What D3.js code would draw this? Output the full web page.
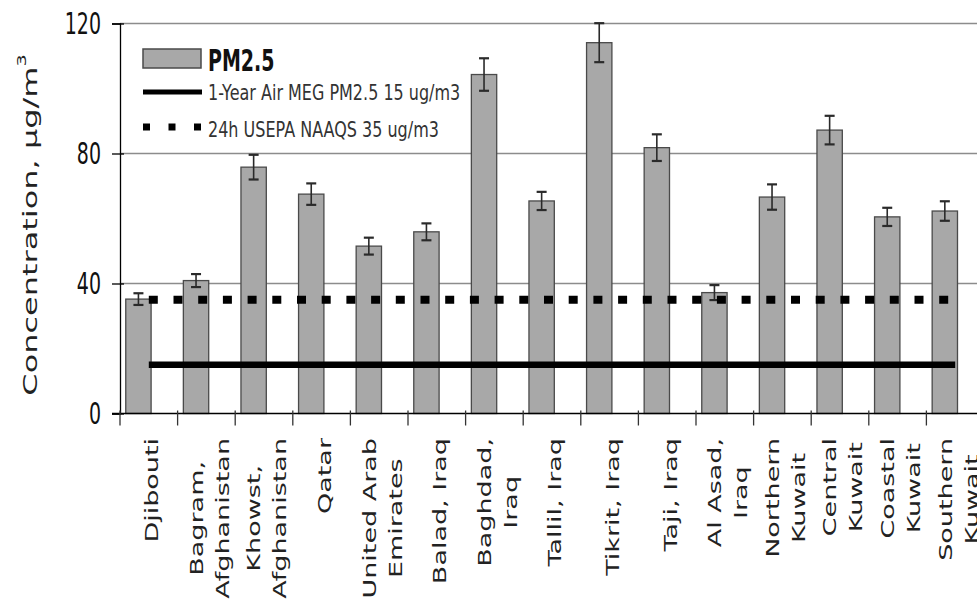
<!DOCTYPE html>
<html>
<head>
<meta charset="utf-8">
<script src="https://cdn.jsdelivr.net/npm/d3@7"></script>
<style>
  body { margin: 0; background: #fff; }
  svg { display: block; font-family: "DejaVu Sans", Verdana, sans-serif; }
</style>
</head>
<body>
<svg id="chart" width="977" height="610"></svg>
<script>
// site labels (one entry per line), PM2.5 means and error bars
var categories = [
  ["Djibouti"], ["Bagram,", "Afghanistan"], ["Khowst,", "Afghanistan"], ["Qatar"],
  ["United Arab", "Emirates"], ["Balad, Iraq"], ["Baghdad,", "Iraq"], ["Tallil, Iraq"],
  ["Tikrit, Iraq"], ["Taji, Iraq"], ["Al Asad,", "Iraq"], ["Northern", "Kuwait"],
  ["Central", "Kuwait"], ["Coastal", "Kuwait"], ["Southern", "Kuwait"]
];
var pm25 = [35.2, 40.9, 75.8, 67.5, 51.5, 55.9, 104.3, 65.4, 114.1, 81.8, 37.2, 66.6, 87.2, 60.5, 62.3];
var pm25Err = [1.8, 2.0, 3.8, 3.3, 2.6, 2.6, 5.0, 2.8, 6.0, 4.1, 2.3, 3.9, 4.4, 2.8, 3.0];
var megLimit = 15;     // 1-Year Air MEG PM2.5
var naaqsLimit = 35;   // 24h USEPA NAAQS
var yTicks = [0, 40, 80, 120];
var legendLabels = ["PM2.5", "1-Year Air MEG PM2.5 15 ug/m3", "24h USEPA NAAQS 35 ug/m3"];

var svg = d3.select("#chart");
var W = 977, H = 610;
var mLeft = 120, mRight = 984, mTop = 23.5, mBottom = 413.5;

var x = d3.scaleBand().domain(d3.range(categories.length)).range([mLeft, mRight]).padding(0);
var y = d3.scaleLinear().domain([0, 120]).range([mBottom, mTop]);
var bw = x.bandwidth();

svg.append("rect").attr("width", W).attr("height", H).attr("fill", "#fff");

// gridlines
svg.append("g").selectAll("line")
  .data(yTicks.filter(function(d) { return d > 0; }))
  .join("line")
  .attr("x1", mLeft).attr("x2", mRight)
  .attr("y1", function(d) { return y(d); }).attr("y2", function(d) { return y(d); })
  .attr("stroke", "#8c8c8c").attr("stroke-width", 1.5);

// bars
svg.append("g").selectAll("rect")
  .data(pm25)
  .join("rect")
  .attr("x", function(d, i) { return x(i) + bw * 0.1; })
  .attr("width", bw * 0.44)
  .attr("y", function(d) { return y(d); })
  .attr("height", function(d) { return y(0) - y(d); })
  .attr("fill", "#a8a8a8")
  .attr("stroke", "#4a4a4a").attr("stroke-width", 1.3);

// error bars
var eb = svg.append("g").attr("stroke", "#2a2a2a").attr("stroke-width", 1.6);
pm25.forEach(function(v, i) {
  var cx = x(i) + bw * 0.32, e = pm25Err[i];
  eb.append("line").attr("x1", cx).attr("x2", cx).attr("y1", y(v - e)).attr("y2", y(v + e));
  [v - e, v + e].forEach(function(t) {
    eb.append("line").attr("x1", cx - 5).attr("x2", cx + 5).attr("y1", y(t)).attr("y2", y(t)).attr("stroke-width", 2.2);
  });
});

// threshold lines across categories
var line = d3.line().x(function(d) { return x(d.i) + bw / 2; }).y(function(d) { return y(d.v); });
svg.append("path")
  .attr("d", line(categories.map(function(c, i) { return { i: i, v: megLimit }; })))
  .attr("fill", "none").attr("stroke", "#000").attr("stroke-width", 6.5);
svg.append("path")
  .attr("d", line(categories.map(function(c, i) { return { i: i, v: naaqsLimit }; })))
  .attr("fill", "none").attr("stroke", "#000").attr("stroke-width", 8)
  .attr("stroke-dasharray", "9 15.7");

// y axis
var yAxis = svg.append("g").attr("transform", "translate(" + mLeft + ",0)")
  .call(d3.axisLeft(y).tickValues(yTicks).tickSize(8).tickPadding(11));
yAxis.select(".domain").attr("stroke", "#000").attr("stroke-width", 1.3);
yAxis.selectAll(".tick line").attr("x2", -8).attr("x1", 4).attr("stroke", "#000").attr("stroke-width", 1.3);
yAxis.selectAll(".tick text")
  .attr("font-family", "DejaVu Sans").attr("font-size", 19).attr("fill", "#111")
  .attr("transform", "scale(1,1.55)").attr("dy", "0.34em");

// x axis
var xAxis = svg.append("g");
xAxis.append("line").attr("x1", mLeft - 8).attr("x2", W).attr("y1", mBottom).attr("y2", mBottom)
  .attr("stroke", "#000").attr("stroke-width", 1.5);
xAxis.selectAll("line.tk")
  .data(d3.range(categories.length))
  .join("line").attr("class", "tk")
  .attr("x1", function(i) { return x(i); }).attr("x2", function(i) { return x(i); })
  .attr("y1", mBottom - 3).attr("y2", mBottom + 12)
  .attr("stroke", "#333").attr("stroke-width", 1.3);

// category labels, rotated and stretched like the source image
var lab = xAxis.selectAll("g.lab")
  .data(categories)
  .join("g").attr("class", "lab")
  .attr("transform", function(d, i) { return "translate(" + (x(i) + bw / 2 + 3) + ",438) scale(1,1.5)"; });
lab.each(function(lines) {
  var g = d3.select(this);
  var texts = lines.map(function(t, k) {
    return g.append("text")
      .attr("transform", "rotate(-90)")
      .attr("text-anchor", "middle")
      .attr("y", (k - (lines.length - 1) / 2) * 26)
      .attr("dy", "0.36em")
      .attr("font-size", 18).attr("fill", "#222")
      .text(t);
  });
  var maxLen = d3.max(texts, function(t) { return t.node().getComputedTextLength(); });
  texts.forEach(function(t) { t.attr("x", -maxLen / 2); });
});

// y title
var yt = svg.append("g").attr("transform", "translate(30,225) scale(1,1.6)")
  .append("text").attr("transform", "rotate(-90)").attr("text-anchor", "middle")
  .attr("dy", "0.36em").attr("font-size", 20).attr("fill", "#222");
yt.append("tspan").text("Concentration, \u00b5g/m");
yt.append("tspan").attr("font-size", 12).attr("dy", "-0.9em").text("3");

// legend
var lg = svg.append("g");
lg.append("rect").attr("x", 143).attr("y", 49).attr("width", 58).attr("height", 19)
  .attr("fill", "#a8a8a8").attr("stroke", "#4a4a4a").attr("stroke-width", 1.5);
lg.append("line").attr("x1", 143).attr("x2", 202).attr("y1", 92).attr("y2", 92)
  .attr("stroke", "#000").attr("stroke-width", 5);
lg.append("line").attr("x1", 143).attr("x2", 204).attr("y1", 127).attr("y2", 127)
  .attr("stroke", "#000").attr("stroke-width", 7).attr("stroke-dasharray", "7 18.5");
var legY = [60, 92, 129];
legendLabels.forEach(function(t, k) {
  lg.append("g").attr("transform", "translate(208," + legY[k] + ") scale(1," + (k === 0 ? 1.6 : 1.35) + ")")
    .append("text").attr("dy", "0.36em")
    .attr("font-size", k === 0 ? 19 : 16)
    .attr("font-weight", k === 0 ? "bold" : "normal")
    .attr("fill", k === 0 ? "#111" : "#333")
    .text(t);
});
</script>
</body>
</html>
